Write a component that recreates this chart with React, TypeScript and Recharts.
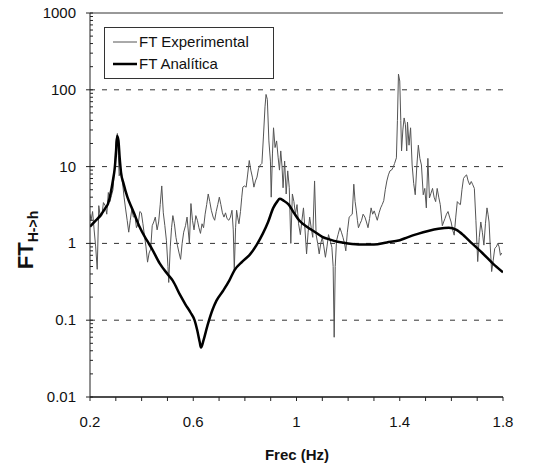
// FT experimental vs analytic transfer function (log scale)

import { LineChart, Line, XAxis, YAxis, ReferenceLine } from 'recharts';

// frequency (Hz) / amplitude pairs
const expFreq = [
  0.2, 0.204, 0.21, 0.216, 0.222, 0.228, 0.234, 0.24, 0.246, 0.252, 0.259, 0.265, 0.271, 0.277, 0.283, 0.289,
  0.295, 0.301, 0.306, 0.31, 0.313, 0.32, 0.326, 0.332, 0.338, 0.344, 0.35, 0.356, 0.362, 0.368, 0.374, 0.38,
  0.387, 0.393, 0.399, 0.405, 0.411, 0.417, 0.423, 0.429, 0.435, 0.441, 0.447, 0.453, 0.46, 0.466, 0.472, 0.478,
  0.484, 0.49, 0.496, 0.502, 0.505, 0.511, 0.516, 0.521, 0.527, 0.533, 0.539, 0.545, 0.551, 0.557, 0.563, 0.57,
  0.576, 0.585, 0.591, 0.597, 0.603, 0.61, 0.616, 0.622, 0.628, 0.634, 0.64, 0.646, 0.652, 0.658, 0.664, 0.67,
  0.677, 0.683, 0.689, 0.695, 0.701, 0.707, 0.713, 0.719, 0.725, 0.731, 0.738, 0.744, 0.75, 0.755, 0.759, 0.764,
  0.768, 0.772, 0.777, 0.783, 0.788, 0.792, 0.798, 0.805, 0.811, 0.817, 0.823, 0.829, 0.835, 0.841, 0.847, 0.853,
  0.86, 0.866, 0.872, 0.878, 0.882, 0.887, 0.893, 0.899, 0.902, 0.907, 0.911, 0.917, 0.923, 0.929, 0.934, 0.939,
  0.944, 0.948, 0.954, 0.96, 0.966, 0.972, 0.978, 0.984, 0.99, 0.996, 1.002, 1.008, 1.015, 1.021, 1.027, 1.033,
  1.039, 1.045, 1.051, 1.057, 1.063, 1.07, 1.076, 1.082, 1.088, 1.094, 1.1, 1.106, 1.112, 1.118, 1.124, 1.13,
  1.137, 1.142, 1.146, 1.15, 1.155, 1.161, 1.168, 1.174, 1.18, 1.186, 1.191, 1.197, 1.204, 1.21, 1.216, 1.222,
  1.227, 1.232, 1.236, 1.24, 1.246, 1.252, 1.258, 1.265, 1.271, 1.277, 1.283, 1.289, 1.295, 1.301, 1.307, 1.313,
  1.32, 1.326, 1.332, 1.338, 1.344, 1.35, 1.356, 1.362, 1.368, 1.374, 1.38, 1.387, 1.391, 1.395, 1.4, 1.404,
  1.407, 1.412, 1.417, 1.422, 1.427, 1.43, 1.436, 1.442, 1.448, 1.454, 1.46, 1.466, 1.472, 1.478, 1.484, 1.491,
  1.497, 1.503, 1.509, 1.515, 1.521, 1.527, 1.533, 1.539, 1.545, 1.551, 1.557, 1.565, 1.57, 1.575, 1.581, 1.587,
  1.593, 1.599, 1.605, 1.611, 1.617, 1.623, 1.629, 1.635, 1.641, 1.647, 1.653, 1.659, 1.665, 1.671, 1.677, 1.683,
  1.689, 1.695, 1.702, 1.708, 1.714, 1.72, 1.726, 1.732, 1.738, 1.742, 1.746, 1.75, 1.756, 1.762, 1.768, 1.774,
  1.78, 1.785, 1.79, 1.795,
];
const expValues = [
  2.4, 2.0, 2.6, 1.5, 0.9, 0.46, 3.1, 2.2, 2.3, 3.4, 3.1, 2.4, 4.6, 3.5, 4.2, 5.0,
  9.3, 22, 27, 14, 7.6, 9, 6.2, 4.0, 2.8, 2.0, 1.4, 2.0, 2.8, 2.2, 2.3, 1.6,
  1.8, 2.6, 2.5, 1.8, 1.26, 0.9, 0.57, 0.75, 0.84, 1.7, 1.9, 2.2, 1.5, 1.9, 3.2, 5.6,
  2.5, 1.7, 1.1, 0.5, 0.31, 0.9, 1.6, 2.3, 1.8, 1.2, 0.93, 0.75, 0.62, 1.0, 1.4, 1.7,
  2.2, 1.0, 3.3, 2.0, 1.5, 2.3, 2.0, 1.6, 1.35, 1.8, 1.6, 2.4, 3.2, 4.4, 3.5, 2.7,
  2.2, 2.0, 2.6, 3.2, 4.0, 3.2, 2.5, 2.2, 2.5, 2.1, 2.0, 2.2, 2.7, 1.5, 0.45, 1.6,
  2.7, 2.2, 1.8, 2.6, 4.0, 5.4, 5.6, 5.4, 8, 12, 9, 7.3, 5.4, 6.5, 7.3, 9.5,
  10.5, 11, 25, 60, 87, 75, 21.6, 11.8, 4.0, 15, 32, 17.7, 21.6, 13, 9, 16,
  10, 5.3, 11.8, 4.4, 8.8, 5.3, 1.0, 4.4, 3.5, 2.4, 3.2, 1.8, 1.3, 2.0, 2.9, 1.5,
  0.73, 1.4, 2.2, 1.6, 1.2, 6.5, 1.3, 1.0, 0.73, 1.0, 1.2, 0.9, 0.66, 0.9, 1.3, 1.1,
  0.89, 0.5, 0.06, 0.5, 1.08, 1.3, 1.6, 1.4, 1.2, 1.0, 0.8, 1.4, 2.2, 2.3, 2.4, 5.9,
  3.5, 2.65, 2.0, 1.6, 1.8, 2.0, 2.4, 2.2, 1.9, 1.6, 2.1, 2.9, 2.4, 2.65, 2.3, 2.0,
  2.5, 2.9, 3.2, 3.6, 5.0, 6.5, 7.8, 8.8, 9.0, 9.7, 11, 13, 40, 160, 130, 40,
  16, 30, 43, 35, 16, 38, 19, 32, 10.5, 6, 4.3, 10, 19, 12.8, 10.5, 4.3,
  5.2, 2.9, 12.8, 3.9, 4.5, 5.2, 4.0, 3.5, 5.2, 4.0, 3.2, 1.7, 1.9, 2.1, 2.4, 2.6,
  2.2, 1.9, 1.5, 1.28, 2.2, 3.5, 3.3, 3.2, 5, 7.0, 7.5, 7.8, 6.5, 5.8, 6.4, 5.8,
  5.2, 2.0, 0.58, 1.2, 1.9, 1.4, 0.95, 1.8, 2.9, 2.4, 1.9, 1.0, 0.43, 0.6, 0.86, 0.9,
  1.0, 0.9, 0.7, 0.75,
];

const anaFreq = [
  0.2, 0.22, 0.24, 0.26, 0.27, 0.28, 0.29, 0.295, 0.3, 0.305, 0.31, 0.315, 0.32, 0.33, 0.345, 0.36,
  0.37, 0.39, 0.42, 0.44, 0.47, 0.5, 0.52, 0.55, 0.57, 0.59, 0.605, 0.615, 0.625, 0.63, 0.64, 0.655,
  0.675, 0.69, 0.715, 0.74, 0.76, 0.79, 0.82, 0.845, 0.87, 0.89, 0.91, 0.925, 0.935, 0.95, 0.97, 0.99,
  1.01, 1.04, 1.07, 1.1, 1.13, 1.16, 1.2, 1.25, 1.3, 1.35, 1.4, 1.43, 1.47, 1.51, 1.55, 1.59,
  1.62, 1.65, 1.68, 1.72, 1.76, 1.8,
];
const anaValues = [
  1.65, 1.95, 2.3, 2.9, 3.3, 4.5, 7, 9, 14, 25, 22, 13, 8.5, 6, 4, 3,
  2.5, 1.7, 1.1, 0.85, 0.55, 0.4, 0.33, 0.21, 0.16, 0.125, 0.1, 0.075, 0.052, 0.044, 0.055, 0.085,
  0.138, 0.18, 0.24, 0.33, 0.45, 0.58, 0.72, 0.95, 1.35, 1.9, 2.9, 3.5, 3.8, 3.6, 3.2, 2.5,
  2.0, 1.65, 1.42, 1.22, 1.12, 1.05, 1.0, 0.97, 0.97, 1.03, 1.1, 1.2, 1.33, 1.45, 1.55, 1.6,
  1.5, 1.25, 1.0, 0.75, 0.55, 0.42,
];

const yMajor = [0.01, 0.1, 1, 10, 100, 1000];
const xTicks = [0.2, 0.3, 0.4, 0.5, 0.6, 0.7, 0.8, 0.9, 1, 1.1, 1.2, 1.3, 1.4, 1.5, 1.6, 1.7, 1.8];
const xLabels = [0.2, 0.6, 1, 1.4, 1.8];
const gridValues = [0.1, 1, 10, 100];

const yTicks: number[] = [];
yMajor.forEach((d, i) => {
  yTicks.push(d);
  if (i < yMajor.length - 1) for (let k = 2; k < 10; k++) yTicks.push(+(d * k).toPrecision(3));
});

const expData = expFreq.map((f, i) => ({ f, v: expValues[i] }));
const anaData = anaFreq.map((f, i) => ({ f, v: anaValues[i] }));

const FONT = '"Liberation Sans", Arial, sans-serif';

function YTick(props: any) {
  const { x, y, payload } = props;
  const major = yMajor.includes(payload.value);
  return (
    <g>
      <line x1={major ? x - 4 : x} x2={x + 3} y1={y} y2={y} stroke="#222" strokeWidth={1} />
      {major && (
        <text x={x - 14} y={y} dy={5} textAnchor="end" fontSize={15} fontFamily={FONT} fill="#111">
          {String(payload.value)}
        </text>
      )}
    </g>
  );
}

function XTick(props: any) {
  const { x, y, payload } = props;
  const labelled = xLabels.includes(payload.value);
  return (
    <g>
      <line x1={x} x2={x} y1={y} y2={y + 4} stroke="#222" strokeWidth={1} />
      {labelled && (
        <text x={x} y={y + 30} textAnchor="middle" fontSize={15} fontFamily={FONT} fill="#111">
          {String(payload.value)}
        </text>
      )}
    </g>
  );
}

export default function App() {
  return (
    <div style={{ position: 'absolute', left: 0, top: 0, width: 552, height: 473, background: '#fff' }}>
      <LineChart width={552} height={473} margin={{ top: 13, right: 49, left: 40, bottom: 46 }}>
        <XAxis
          dataKey="f"
          type="number"
          domain={[0.2, 1.8]}
          ticks={xTicks}
          tick={<XTick />}
          tickLine={false}
          tickSize={0}
          tickMargin={0}
          height={30}
          allowDataOverflow
          axisLine={{ stroke: '#111', strokeWidth: 1.5 }}
        />
        <YAxis
          type="number"
          scale="log"
          domain={[0.01, 1000]}
          ticks={yTicks}
          tick={<YTick />}
          tickLine={false}
          tickSize={0}
          tickMargin={0}
          width={50}
          allowDataOverflow
          interval={0}
          axisLine={{ stroke: '#222' }}
        />
        {gridValues.map((g) => (
          <ReferenceLine key={g} y={g} stroke="#333" strokeWidth={1} strokeDasharray="5 7" />
        ))}
        <ReferenceLine y={1000} stroke="#333" strokeWidth={1} />
        <Line
          data={expData}
          dataKey="v"
          type="linear"
          stroke="#555"
          strokeWidth={1}
          dot={false}
          isAnimationActive={false}
        />
        <Line
          data={anaData}
          dataKey="v"
          type="monotone"
          stroke="#000"
          strokeWidth={2.5}
          dot={false}
          isAnimationActive={false}
        />
      </LineChart>

      {/* legend box */}
      <div
        style={{
          position: 'absolute',
          left: 104,
          top: 27,
          width: 168,
          height: 50,
          border: '1px solid #333',
          background: '#fff',
          fontFamily: FONT,
          fontSize: 15,
          color: '#111',
        }}
      >
        <div style={{ position: 'absolute', left: 8, top: 5, display: 'flex', alignItems: 'center' }}>
          <svg width={24} height={10}>
            <line x1={0} x2={24} y1={5} y2={5} stroke="#555" strokeWidth={1} />
          </svg>
          <span style={{ marginLeft: 2 }}>FT Experimental</span>
        </div>
        <div style={{ position: 'absolute', left: 8, top: 27, display: 'flex', alignItems: 'center' }}>
          <svg width={24} height={10}>
            <line x1={0} x2={24} y1={5} y2={5} stroke="#000" strokeWidth={2.5} />
          </svg>
          <span style={{ marginLeft: 2 }}>FT Analítica</span>
        </div>
      </div>

      {/* axis titles */}
      <div
        style={{
          position: 'absolute',
          left: 297,
          top: 446,
          transform: 'translateX(-50%)',
          fontFamily: FONT,
          fontWeight: 'bold',
          fontSize: 15,
          color: '#111',
          whiteSpace: 'nowrap',
        }}
      >
        Frec (Hz)
      </div>
      <div
        style={{
          position: 'absolute',
          left: 26,
          top: 240,
          transform: 'translate(-50%, -50%) rotate(-90deg)',
          fontFamily: FONT,
          fontWeight: 'bold',
          fontSize: 22,
          color: '#111',
          whiteSpace: 'nowrap',
        }}
      >
        FT<span style={{ fontSize: 14, position: 'relative', top: 5 }}>H-&gt;h</span>
      </div>
    </div>
  );
}
